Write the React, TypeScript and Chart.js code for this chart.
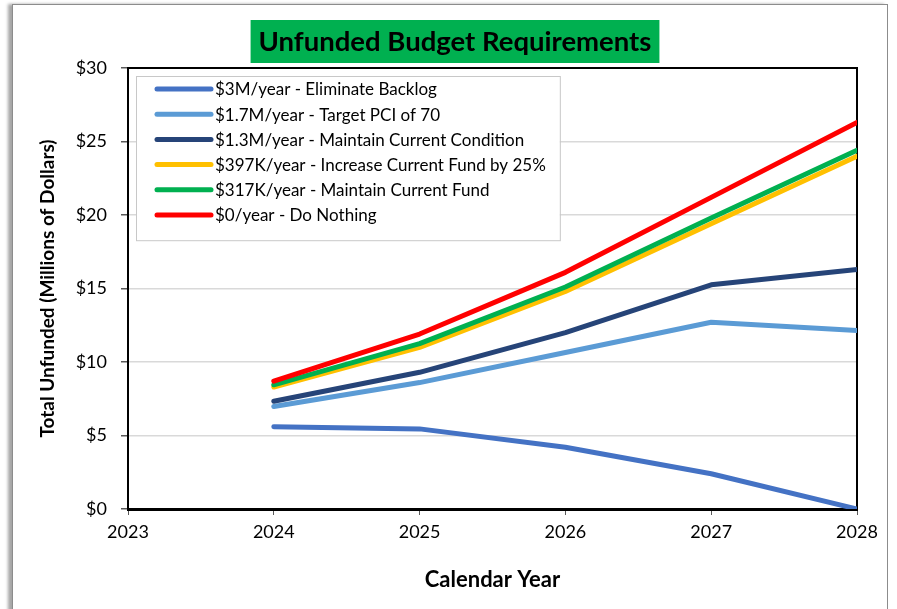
import React, { useEffect, useRef } from "react";
import { Chart, registerables } from "chart.js";

Chart.register(...registerables);

const chartTitle = "Unfunded Budget Requirements";
const xAxisTitle = "Calendar Year";
const yAxisTitle = "Total Unfunded (Millions of Dollars)";

const years = [2024, 2025, 2026, 2027, 2028];
const xTickYears = [2023, 2024, 2025, 2026, 2027, 2028];
const yTickValues = [0, 5, 10, 15, 20, 25, 30];

const seriesLabels = [
  "$3M/year - Eliminate Backlog",
  "$1.7M/year - Target PCI of 70",
  "$1.3M/year - Maintain Current Condition",
  "$397K/year - Increase Current Fund by 25%",
  "$317K/year - Maintain Current Fund",
  "$0/year - Do Nothing",
];

const eliminateBacklog = [5.6, 5.45, 4.2, 2.4, 0];
const targetPci70 = [6.97, 8.6, 10.65, 12.7, 12.15];
const maintainCondition = [7.33, 9.3, 12.0, 15.25, 16.3];
const increaseFund25 = [8.3, 11.0, 14.8, 19.4, 24.0];
const maintainFund = [8.45, 11.25, 15.1, 19.8, 24.4];
const doNothing = [8.7, 11.9, 16.1, 21.2, 26.3];

const seriesValues = [
  eliminateBacklog,
  targetPci70,
  maintainCondition,
  increaseFund25,
  maintainFund,
  doNothing,
];

const seriesColors = ["#4472C4", "#5B9BD5", "#264478", "#FFC000", "#00B050", "#FF0000"];

const FONT = "Lato, 'Open Sans', sans-serif";

const titleBoxPlugin = {
  id: "titleBox",
  beforeDraw(chart: any, _args: any, opts: any) {
    const ctx = chart.ctx;
    ctx.save();
    ctx.font = `bold ${opts.size}px ${FONT}`;
    const w = ctx.measureText(opts.text).width;
    const boxW = w + opts.padX * 2;
    const cx = opts.centerX;
    ctx.fillStyle = opts.background;
    ctx.fillRect(cx - boxW / 2, opts.top, boxW, opts.height);
    ctx.fillStyle = "#000";
    ctx.textAlign = "center";
    ctx.textBaseline = "middle";
    ctx.fillText(opts.text, cx, opts.top + opts.height / 2 + 1);
    ctx.restore();
  },
};

const frameBorderPlugin = {
  id: "frameBorder",
  beforeDatasetsDraw(chart: any) {
    const { ctx, chartArea } = chart;
    ctx.save();
    ctx.strokeStyle = "#000";
    ctx.lineWidth = 2;
    ctx.beginPath();
    ctx.moveTo(chartArea.left, chartArea.top);
    ctx.lineTo(chartArea.right, chartArea.top);
    ctx.lineTo(chartArea.right, chartArea.bottom);
    ctx.stroke();
    ctx.restore();
  },
};

const boxLegendPlugin = {
  id: "boxLegend",
  afterDatasetsDraw(chart: any, _args: any, opts: any) {
    const { ctx, chartArea } = chart;
    const datasets = chart.data.datasets;
    ctx.save();
    ctx.font = `${opts.size}px ${FONT}`;
    let maxW = 0;
    datasets.forEach((d: any) => {
      maxW = Math.max(maxW, ctx.measureText(d.label).width);
    });
    const x0 = chartArea.left + opts.offsetX;
    const y0 = chartArea.top + opts.offsetY;
    const boxW = opts.textOffset + maxW + opts.padRight;
    const boxH = opts.padTop + opts.rowHeight * datasets.length;
    ctx.fillStyle = "#fff";
    ctx.fillRect(x0, y0, boxW, boxH);
    ctx.strokeStyle = "#c8c8c8";
    ctx.lineWidth = 1;
    ctx.strokeRect(x0 + 0.5, y0 + 0.5, boxW, boxH);
    datasets.forEach((d: any, i: number) => {
      const y = y0 + opts.padTop + opts.rowHeight * i;
      ctx.strokeStyle = d.borderColor;
      ctx.lineWidth = 5;
      ctx.lineCap = "round";
      ctx.beginPath();
      ctx.moveTo(x0 + opts.lineStart, y);
      ctx.lineTo(x0 + opts.lineEnd, y);
      ctx.stroke();
      ctx.fillStyle = "#000";
      ctx.textAlign = "left";
      ctx.textBaseline = "middle";
      ctx.fillText(d.label, x0 + opts.textOffset, y + 1);
    });
    ctx.restore();
  },
};

export default function App() {
  const canvasRef = useRef<HTMLCanvasElement | null>(null);

  useEffect(() => {
    if (!canvasRef.current) return;
    const datasets = seriesLabels.map((label, i) => ({
      label,
      data: years.map((yr, j) => ({ x: yr, y: seriesValues[i][j] })),
      borderColor: seriesColors[i],
      backgroundColor: seriesColors[i],
      borderWidth: 5,
      pointRadius: 0,
      tension: 0,
      fill: false,
      order: seriesLabels.length - i,
      borderCapStyle: "round" as const,
      borderJoinStyle: "round" as const,
    }));

    const chart = new Chart(canvasRef.current, {
      type: "line",
      data: { datasets },
      plugins: [titleBoxPlugin, frameBorderPlugin, boxLegendPlugin],
      options: {
        animation: false,
        responsive: false,
        maintainAspectRatio: false,
        layout: { padding: { top: 68, right: 40, left: 0, bottom: 0 } },
        plugins: {
          legend: { display: false },
          title: { display: false },
          tooltip: { enabled: false },
          titleBox: {
            text: chartTitle,
            size: 27.5,
            padX: 8,
            top: 20,
            height: 43,
            centerX: 455,
            background: "#00B050",
          },
          boxLegend: {
            size: 17,
            offsetX: 8,
            offsetY: 8,
            padTop: 13,
            rowHeight: 25.2,
            lineStart: 21,
            lineEnd: 75,
            textOffset: 79,
            padRight: 14,
          },
        } as any,
        scales: {
          x: {
            type: "linear",
            min: xTickYears[0],
            max: xTickYears[xTickYears.length - 1],
            afterBuildTicks: (scale: any) => {
              scale.ticks = xTickYears.map((v) => ({ value: v }));
            },
            afterFit: (scale: any) => {
              scale.height = 100;
            },
            ticks: {
              callback: (v: any) => String(v),
              color: "#000",
              font: { family: FONT, size: 18 },
              padding: 6,
              maxRotation: 0,
            },
            grid: {
              drawOnChartArea: false,
              drawTicks: true,
              tickLength: 6,
              tickColor: "#595959",
            },
            border: { display: true, color: "#000", width: 3 },
            title: {
              display: true,
              text: xAxisTitle,
              color: "#000",
              font: { family: FONT, size: 22, weight: "bold" },
              padding: { top: 0, bottom: 16 },
            },
          },
          y: {
            type: "linear",
            min: yTickValues[0],
            max: yTickValues[yTickValues.length - 1],
            afterBuildTicks: (scale: any) => {
              scale.ticks = yTickValues.map((v) => ({ value: v }));
            },
            afterFit: (scale: any) => {
              scale.width = 128;
            },
            ticks: {
              callback: (v: any) => "$" + v,
              color: "#000",
              font: { family: FONT, size: 18 },
              padding: 14,
            },
            grid: {
              color: "#d9d9d9",
              lineWidth: 1.5,
              drawTicks: true,
              tickLength: 7,
              tickColor: "#595959",
            },
            border: { display: true, color: "#000", width: 2 },
            title: {
              display: true,
              text: yAxisTitle,
              color: "#000",
              font: { family: FONT, size: 19, weight: "bold" },
              padding: { top: 36, bottom: 0 },
            },
          },
        },
      },
    });
    return () => chart.destroy();
  }, []);

  return (
    <div style={{ position: "absolute", left: 0, top: 0, width: 897, height: 609, overflow: "hidden", background: "#fff" }}>
      <div
        style={{
          position: "absolute",
          left: 12,
          top: 4,
          width: 874,
          height: 640,
          border: "1px solid #8c8c8c",
          boxShadow: "-4px 0 3px #a6a6a6",
          background: "#fff",
        }}
      />
      <canvas
        ref={canvasRef}
        width={897}
        height={609}
        style={{ position: "absolute", left: 0, top: 0, width: 897, height: 609 }}
      />
    </div>
  );
}
